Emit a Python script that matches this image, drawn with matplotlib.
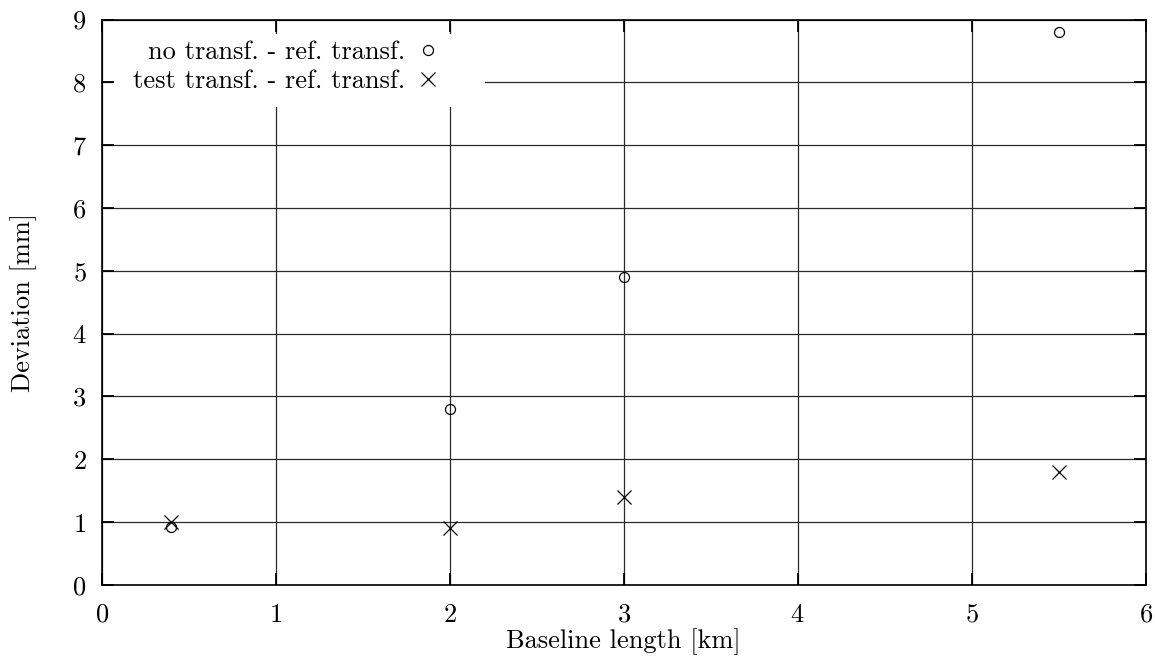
import matplotlib
matplotlib.use("Agg")
import matplotlib.pyplot as plt
from matplotlib.patches import Rectangle

plt.rcParams['font.family'] = 'serif'
plt.rcParams['font.serif'] = ['cmr10', 'DejaVu Serif']
plt.rcParams['mathtext.fontset'] = 'cm'
plt.rcParams['axes.formatter.use_mathtext'] = True

baseline = [0.4, 2.0, 3.0, 5.5]
no_transf = [0.92, 2.8, 4.9, 8.8]
test_transf = [1.0, 0.9, 1.4, 1.8]

xticks = [0, 1, 2, 3, 4, 5, 6]
yticks = [0, 1, 2, 3, 4, 5, 6, 7, 8, 9]

fs = 19

fig = plt.figure(figsize=(11.55, 6.64), dpi=100)
ax = fig.add_axes([0.0881, 0.119, 0.9038, 0.8516])

ax.plot(baseline, no_transf, 'o', mfc='none', mec='black', ms=7.2, mew=0.9,
        label='no transf. - ref. transf.', zorder=3)
ax.plot(baseline, test_transf, 'x', color='black', ms=9.5, mew=0.9,
        label='test transf. - ref. transf.', zorder=3)

ax.set_xlim(0, 6)
ax.set_ylim(0, 9)
ax.set_xticks(xticks)
ax.set_yticks(yticks)
ax.grid(True, color='#2a2a2a', lw=0.9)
ax.set_axisbelow(True)
ax.tick_params(direction='in', length=8.6, width=1.3, top=True, right=True,
               labelsize=fs)
ax.tick_params(axis='x', pad=13)
ax.tick_params(axis='y', pad=11)
for s in ax.spines.values():
    s.set_linewidth(1.2)

ax.set_xlabel('Baseline length [km]', fontsize=fs, labelpad=1)
ax.set_ylabel('Deviation [mm]', fontsize=fs, labelpad=25)

# white key area, like gnuplot's key box (leaves the tick marks visible)
ax.add_patch(Rectangle((0.0115, 0.845), 0.3555, 0.130, transform=ax.transAxes,
                       facecolor='white', edgecolor='none', zorder=1))

leg = ax.legend(loc='upper right', bbox_to_anchor=(0.320, 0.963), fontsize=fs,
                markerfirst=False, frameon=False,
                handlelength=0.6, handletextpad=0.55, borderpad=0.0,
                borderaxespad=0.0, labelspacing=0.2)
for t in leg.get_texts():
    t.set_ha('right')
leg._legend_box.align = 'right'

fig.savefig('out.png', dpi=100)
